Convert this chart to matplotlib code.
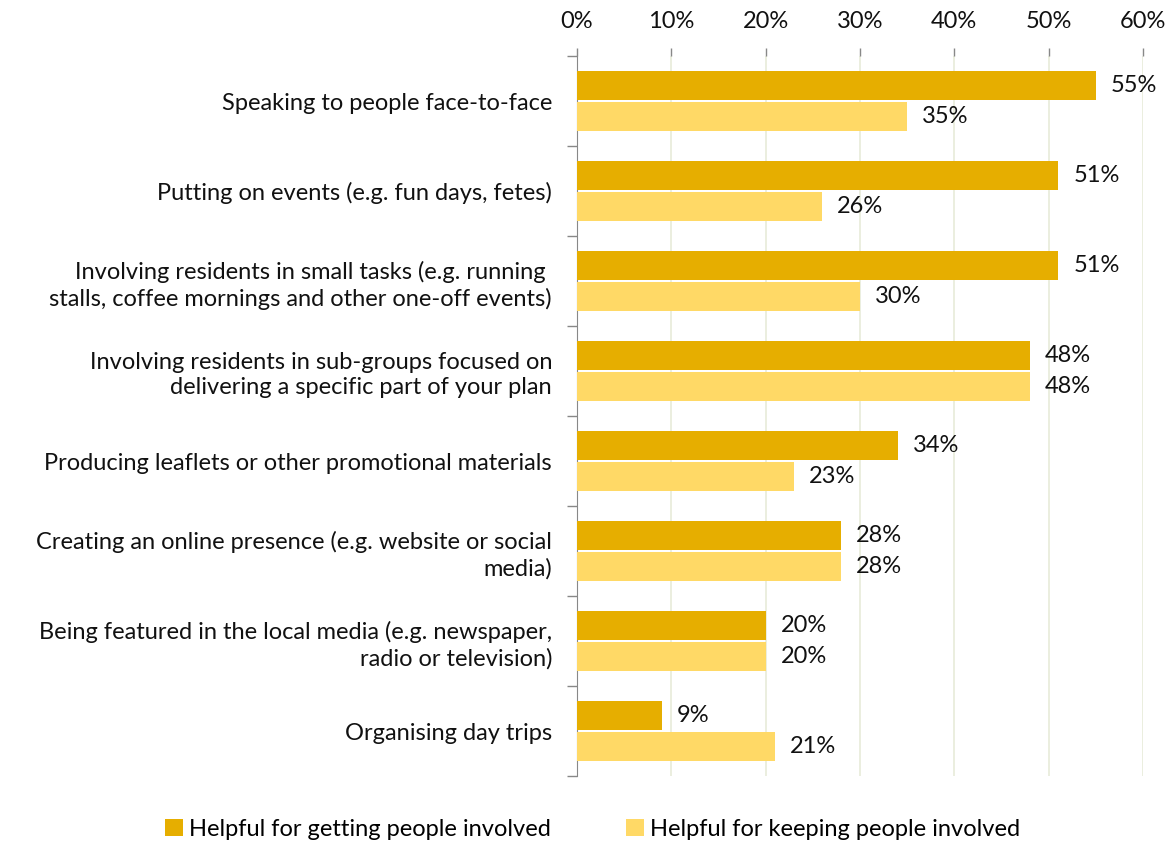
import matplotlib
matplotlib.use("Agg")
import matplotlib.pyplot as plt
import numpy as np
from matplotlib.ticker import FixedLocator, FuncFormatter

categories = [
    "Speaking to people face-to-face",
    "Putting on events (e.g. fun days, fetes)",
    "Involving residents in small tasks (e.g. running \nstalls, coffee mornings and other one-off events)",
    "Involving residents in sub-groups focused on\ndelivering a specific part of your plan",
    "Producing leaflets or other promotional materials",
    "Creating an online presence (e.g. website or social\nmedia)",
    "Being featured in the local media (e.g. newspaper,\nradio or television)",
    "Organising day trips",
]
getting = [55, 51, 51, 48, 34, 28, 20, 9]
keeping = [35, 26, 30, 48, 23, 28, 20, 21]
series_names = ["Helpful for getting people involved", "Helpful for keeping people involved"]
x_ticks = [0, 10, 20, 30, 40, 50, 60]

dark = "#E6AE00"
light = "#FFD966"
font = "Lato"
fs = 17
plt.rcParams["font.family"] = [font, "DejaVu Sans"]

fig = plt.figure(figsize=(11.73, 8.48), dpi=100)
ax = fig.add_axes([577 / 1173, 1 - 776 / 848, (1143 - 577) / 1173, (776 - 56) / 848])

n = len(categories)
centers = np.arange(n) + 0.5
h = 0.325
gap = 0.012
ax.barh(centers - h / 2 - gap, getting, height=h, color=dark, label=series_names[0], zorder=3)
ax.barh(centers + h / 2 + gap, keeping, height=h, color=light, label=series_names[1], zorder=3)

for c, g, k in zip(centers, getting, keeping):
    ax.text(g + 1.6, c - h / 2 - gap, f"{g}%", va="center", ha="left", fontsize=fs, color="#111111")
    ax.text(k + 1.6, c + h / 2 + gap, f"{k}%", va="center", ha="left", fontsize=fs, color="#111111")

ax.set_xlim(0, 60)
ax.set_ylim(n, 0)
ax.xaxis.set_major_locator(FixedLocator(x_ticks))
ax.xaxis.set_major_formatter(FuncFormatter(lambda v, p: f"{v:.0f}%"))
ax.xaxis.tick_top()
ax.tick_params(axis="x", which="major", length=6, width=1, color="#888888",
               labelsize=fs, pad=11, labelcolor="#111111")
ax.grid(axis="x", color="#E8EBD9", linewidth=1.2, zorder=0)

# category boundaries carry the ticks, labels sit at the centres
ax.yaxis.set_major_locator(FixedLocator(np.arange(n + 1)))
ax.yaxis.set_major_formatter(FuncFormatter(lambda v, p: ""))
ax.yaxis.set_minor_locator(FixedLocator(centers))
ax.set_yticklabels(categories, minor=True)
ax.tick_params(axis="y", which="major", length=7, width=1, color="#888888")
ax.tick_params(axis="y", which="minor", length=0, pad=18, labelsize=fs, labelcolor="#111111")
for lab in ax.get_yticklabels(minor=True):
    lab.set_horizontalalignment("right")
    lab.set_multialignment("right")
    lab.set_linespacing(1.25)

for side in ["right", "bottom", "top"]:
    ax.spines[side].set_visible(False)
ax.spines["left"].set_color("#888888")

fig.legend(loc="center", bbox_to_anchor=(0.505, 1 - 829 / 848), ncol=2, frameon=False,
           fontsize=fs, handlelength=0.75, handleheight=0.75, handletextpad=0.25,
           columnspacing=3.2)

fig.savefig("out.png", dpi=100)
